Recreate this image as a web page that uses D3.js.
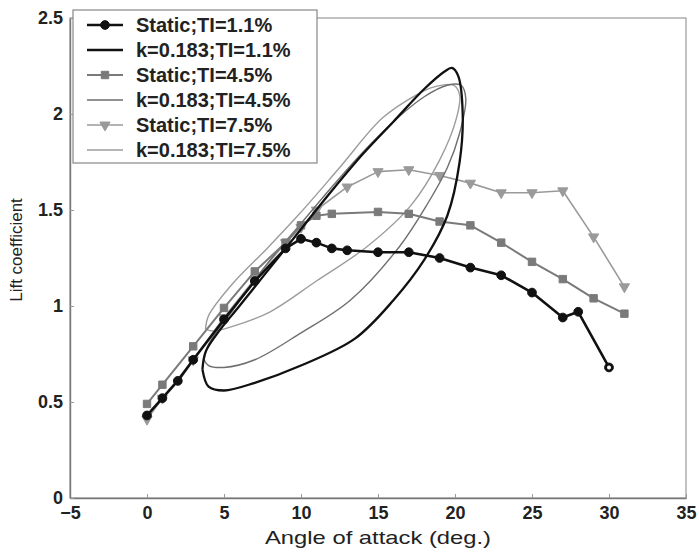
<!DOCTYPE html>
<html><head><meta charset="utf-8">
<script src="https://cdn.jsdelivr.net/npm/d3@7"></script>
<style>
html,body{margin:0;padding:0;background:#fff;}
svg{display:block;font-family:"Liberation Sans",Arial,Helvetica,sans-serif;}
</style></head>
<body><svg id="chart" width="699" height="552"></svg>
<script>
// ---- data ----
const xTicks = [-5, 0, 5, 10, 15, 20, 25, 30, 35];
const yTicks = [0, 0.5, 1, 1.5, 2, 2.5];
const xLabel = "Angle of attack (deg.)";
const yLabel = "Lift coefficient";
const seriesNames = ["Static;TI=1.1%", "k=0.183;TI=1.1%", "Static;TI=4.5%", "k=0.183;TI=4.5%", "Static;TI=7.5%", "k=0.183;TI=7.5%"];

const staticTI11 = [[0,0.43],[1,0.52],[2,0.61],[3,0.72],[5,0.93],[7,1.13],[9,1.30],[10,1.35],[11,1.33],[12,1.30],[13,1.29],[15,1.28],[17,1.28],[19,1.25],[21,1.20],[23,1.16],[25,1.07],[27,0.94],[28,0.97],[30,0.68]];
const staticTI45 = [[0,0.49],[1,0.59],[3,0.79],[5,0.99],[7,1.18],[9,1.33],[10,1.42],[11,1.47],[12,1.48],[15,1.49],[17,1.48],[19,1.44],[21,1.42],[23,1.33],[25,1.23],[27,1.14],[29,1.04],[31,0.96]];
const staticTI75 = [[0,0.41],[1,0.52],[3,0.72],[5,0.94],[7,1.14],[9,1.33],[10,1.41],[11,1.50],[13,1.62],[15,1.70],[17,1.71],[19,1.68],[21,1.64],[23,1.59],[25,1.59],[27,1.60],[29,1.36],[31,1.10]];

const dynTI11 = [[3.6,0.67],[3.8,0.76],[4.5,0.85],[6,1.0],[8,1.2],[10,1.4],[12,1.6],[14,1.79],[16,1.96],[18,2.13],[19.3,2.22],[19.8,2.24],[20.2,2.2],[20.5,2.0],[20.3,1.75],[19.5,1.47],[18,1.24],[16,1.03],[13.5,0.83],[10,0.69],[7,0.6],[5,0.56],[4,0.58],[3.6,0.67]];
const dynTI45 = [[3.7,0.72],[4,0.8],[5.5,0.97],[8,1.24],[10,1.43],[12,1.62],[14,1.8],[16,1.96],[18,2.09],[19.5,2.15],[20.4,2.15],[20.7,2.08],[20.3,1.9],[19.5,1.72],[18.2,1.53],[16.4,1.31],[13.2,1.03],[10,0.86],[7,0.72],[5,0.68],[4,0.69],[3.7,0.72]];
const dynTI75 = [[3.8,0.88],[4,0.95],[5.6,1.12],[7.8,1.3],[9.9,1.48],[12.5,1.72],[15.3,1.98],[17.5,2.1],[18.6,2.14],[19.9,2.15],[20.3,2.1],[20.1,1.98],[19,1.76],[17.1,1.52],[14.3,1.31],[11,1.13],[8,0.97],[5.4,0.89],[4.3,0.87],[3.8,0.88]];

// ---- chart ----
const svg = d3.select("#chart");
const m = {left:70, right:686, top:18, bottom:498};
const x = d3.scaleLinear().domain([-5,35]).range([m.left, m.right]);
const y = d3.scaleLinear().domain([0,2.5]).range([m.bottom, m.top]);

// frame
svg.append("rect").attr("x",m.left).attr("y",m.top).attr("width",m.right-m.left).attr("height",m.bottom-m.top)
  .attr("fill","none").attr("stroke","#999").attr("stroke-width",1.2);

const fmt = d => String(d).replace("-", "\u2212");
const gx = svg.append("g").attr("transform",`translate(0,${m.bottom})`)
  .call(d3.axisBottom(x).tickValues(xTicks).tickSizeInner(-4).tickSizeOuter(0).tickPadding(4).tickFormat(fmt));
const gy = svg.append("g").attr("transform",`translate(${m.left},0)`)
  .call(d3.axisLeft(y).tickValues(yTicks).tickSizeInner(-4).tickSizeOuter(0).tickPadding(7).tickFormat(fmt));
[gx,gy].forEach(g=>{
  g.select(".domain").attr("stroke","#777").attr("stroke-width",1.4);
  g.selectAll(".tick line").attr("stroke","#999");
  g.selectAll(".tick text").attr("font-size",18).attr("font-weight","bold").attr("fill","#222");
});
gx.selectAll(".tick text").attr("dy","0.95em");
gy.selectAll(".tick text").attr("dy","0.3em");

svg.append("text").attr("x",(m.left+m.right)/2).attr("y",544).attr("text-anchor","middle")
  .attr("font-size",19).attr("fill","#222")
  .attr("textLength",226).attr("lengthAdjust","spacingAndGlyphs").text(xLabel);
svg.append("text").attr("transform",`translate(22,${(m.top+m.bottom)/2 - 8}) rotate(-90)`).attr("text-anchor","middle")
  .attr("font-size",17).attr("fill","#222").text(yLabel);

const lineS = d3.line().x(d=>x(d[0])).y(d=>y(d[1]));
const lineC = d3.line().x(d=>x(d[0])).y(d=>y(d[1])).curve(d3.curveCatmullRom.alpha(0.5));

const styles = [
  {data:staticTI11, color:"#111", width:2.6, marker:"circle", loop:false},
  {data:dynTI11, color:"#111", width:2.3, loop:true},
  {data:staticTI45, color:"#7a7a7a", width:2, marker:"square", loop:false},
  {data:dynTI45, color:"#6e6e6e", width:1.4, loop:true},
  {data:staticTI75, color:"#9a9a9a", width:1.6, marker:"triangle", loop:false},
  {data:dynTI75, color:"#9c9c9c", width:1.4, loop:true}
];

const sym = {circle:d3.symbolCircle, square:d3.symbolSquare, triangle:d3.symbolTriangle};
const symSize = {circle:60, square:55, triangle:45};

function drawMarker(g, type, color, px, py){
  const s = g.append("path").attr("d", d3.symbol(sym[type], symSize[type])())
    .attr("fill", color).attr("stroke", color).attr("stroke-width",1);
  s.attr("transform", `translate(${px},${py})` + (type==="triangle" ? " rotate(180)" : ""));
}

// draw order: light first, black last
[5,4,3,2,1,0].forEach(i=>{
  const s = styles[i];
  const g = svg.append("g");
  g.append("path").datum(s.data).attr("d", s.loop ? lineC : lineS)
    .attr("fill","none").attr("stroke",s.color).attr("stroke-width",s.width).attr("stroke-linejoin","round");
  if (s.marker){
    s.data.forEach(d=>drawMarker(g, s.marker, s.color, x(d[0]), y(d[1])));
  }
});
// open end marker for the last black static point
{
  const last = staticTI11[staticTI11.length-1];
  svg.append("circle").attr("cx",x(last[0])).attr("cy",y(last[1])).attr("r",2).attr("fill","#fff");
}

// legend
const lg = svg.append("g");
lg.append("rect").attr("x",73).attr("y",10).attr("width",244).attr("height",153)
  .attr("fill","#fff").attr("stroke","#888").attr("stroke-width",1.2);
seriesNames.forEach((name,i)=>{
  const s = styles[i];
  const yy = 25 + i*25;
  lg.append("line").attr("x1",87).attr("x2",123).attr("y1",yy).attr("y2",yy)
    .attr("stroke",s.color).attr("stroke-width",s.width);
  if (s.marker) drawMarker(lg, s.marker, s.color, 105, yy);
  lg.append("text").attr("x",136).attr("y",yy).attr("dy","0.35em")
    .attr("font-size",20).attr("font-weight","bold").attr("fill","#222").text(name);
});
</script></body></html>
